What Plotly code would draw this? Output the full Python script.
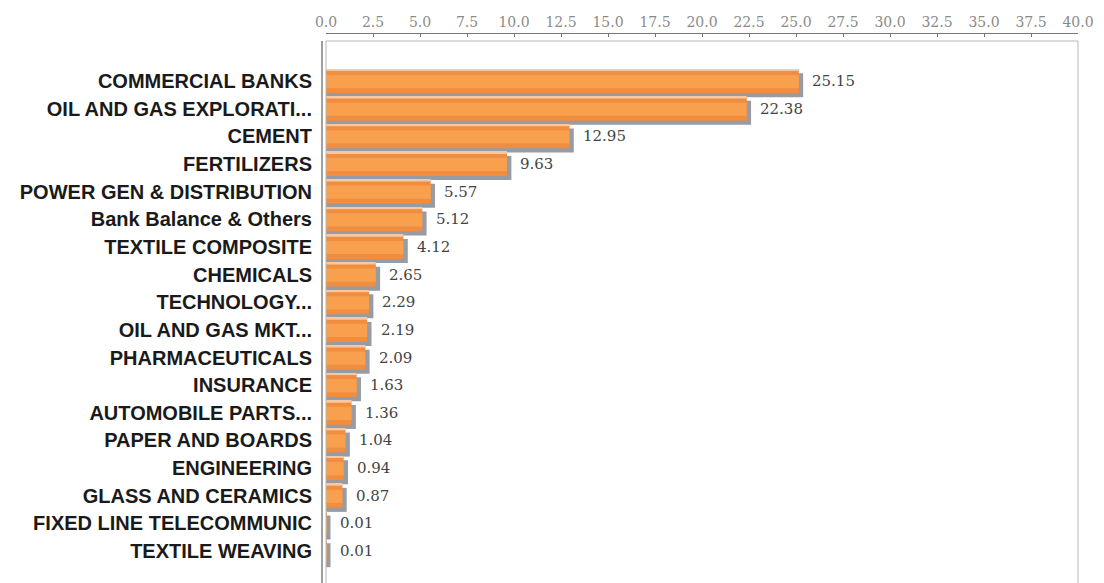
import plotly.graph_objects as go

categories = [
    "COMMERCIAL BANKS", "OIL AND GAS EXPLORATI...", "CEMENT", "FERTILIZERS",
    "POWER GEN & DISTRIBUTION", "Bank Balance & Others", "TEXTILE COMPOSITE",
    "CHEMICALS", "TECHNOLOGY...", "OIL AND GAS MKT...", "PHARMACEUTICALS",
    "INSURANCE", "AUTOMOBILE PARTS...", "PAPER AND BOARDS", "ENGINEERING",
    "GLASS AND CERAMICS", "FIXED LINE TELECOMMUNIC", "TEXTILE WEAVING",
]
values = [25.15, 22.38, 12.95, 9.63, 5.57, 5.12, 4.12, 2.65, 2.29, 2.19, 2.09,
          1.63, 1.36, 1.04, 0.94, 0.87, 0.01, 0.01]
value_labels = ["25.15", "22.38", "12.95", "9.63", "5.57", "5.12", "4.12", "2.65",
                "2.29", "2.19", "2.09", "1.63", "1.36", "1.04", "0.94", "0.87",
                "0.01", "0.01"]
tick_vals = [i * 2.5 for i in range(17)]
tick_text = ["%.1f" % v for v in tick_vals]

W = 0.868          # bar thickness in category units
SH_DX = 0.23       # shadow shift (value units)
SH_DY = 0.15       # shadow shift (category units)

fig = go.Figure()
# shadow
fig.add_trace(go.Bar(
    y=categories, x=[v + SH_DX for v in values], orientation="h",
    width=W, offset=-W / 2 + SH_DY,
    marker=dict(color="#979ba3", line=dict(width=0)), hoverinfo="skip"))
# main bar
fig.add_trace(go.Bar(
    y=categories, x=values, orientation="h",
    width=W, offset=-W / 2,
    marker=dict(color="#f08d3e", line=dict(width=0))))
# lighter middle band (gradient look)
fig.add_trace(go.Bar(
    y=categories, x=values, orientation="h",
    width=W * 0.55, offset=-W / 2 + W * 0.25,
    marker=dict(color="#f8a04e", line=dict(width=0)), hoverinfo="skip"))
# top highlight
fig.add_trace(go.Bar(
    y=categories, x=values, orientation="h",
    width=0.07, offset=-W / 2,
    marker=dict(color="#f7c8a2", line=dict(width=0)), hoverinfo="skip"))

annotations = []
for c, v, t in zip(categories, values, value_labels):
    annotations.append(dict(
        x=v + SH_DX, y=c, xref="x", yref="y", text=t, showarrow=False,
        xanchor="left", yanchor="middle", xshift=7,
        font=dict(family="DejaVu Serif", size=15, color="#444444")))

# page body adds an 8px offset; target screen coordinates below
OFF = 8
L, R, T, B = 326 - OFF, 1078 - OFF, 34 - OFF, 583 - OFF
FW, FH = 1104 - OFF, 583 - OFF
H_PLOT = B - T
box_top = (B - (41 - OFF)) / H_PLOT
xl = (322 - 326) / (R - L)
shapes = [
    dict(type="rect", xref="paper", yref="paper", x0=0, x1=1, y0=-0.03, y1=box_top,
         line=dict(color="#b8b8b8", width=1), fillcolor="rgba(0,0,0,0)"),
    dict(type="line", xref="paper", yref="paper",
         x0=xl, x1=xl, y0=-0.03, y1=box_top,
         line=dict(color="#a0a0a0", width=2)),
]

# category rows: centre of first row at y=81, pitch 27.65 px
row0, pitch = 81 - 34, 27.65
y_top = -row0 / pitch
y_bot = (583 - 81) / pitch

fig.update_layout(
    width=FW, height=FH,
    margin=dict(l=L, r=FW - R, t=T, b=0, pad=0, autoexpand=False),
    paper_bgcolor="white", plot_bgcolor="white",
    barmode="overlay", showlegend=False,
    annotations=annotations, shapes=shapes,
    xaxis=dict(side="top", range=[0, 40], tickvals=tick_vals, ticktext=tick_text,
               showgrid=False, zeroline=False, showline=True, linecolor="#777777",
               linewidth=1, ticks="inside", ticklen=3, tickcolor="#777777",
               tickfont=dict(family="DejaVu Serif", size=14, color="#8a8a8a"),
               ticklabelstandoff=0, automargin=False),
    yaxis=dict(type="category", range=[y_bot, y_top], autorange=False,
               showgrid=False, zeroline=False, showline=False, ticks="",
               tickfont=dict(family="Liberation Sans", size=20, color="#1a1a1a",
                             weight="bold"),
               ticklabelstandoff=13, automargin=False),
)

fig.write_html("out.html")
